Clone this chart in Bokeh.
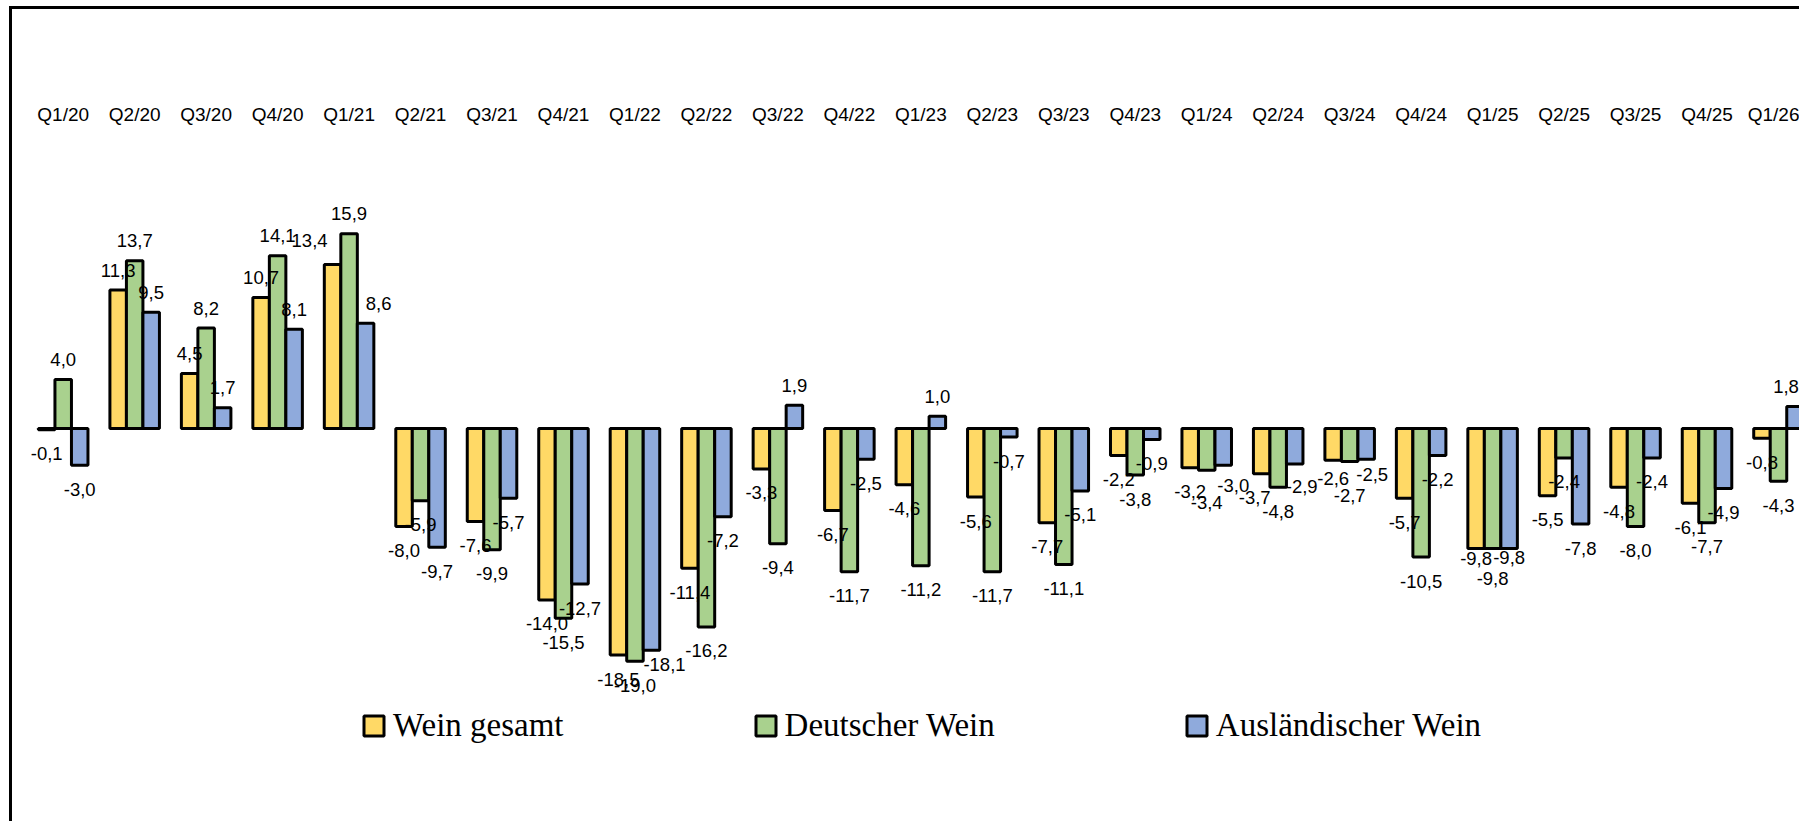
from bokeh.plotting import figure
from bokeh.models import ColumnDataSource, Range1d, FixedTicker, Legend, LegendItem
from bokeh.embed import file_html
from bokeh.resources import INLINE
from bokeh.core.properties import value

quarters = ["Q1/20", "Q2/20", "Q3/20", "Q4/20", "Q1/21", "Q2/21", "Q3/21", "Q4/21",
            "Q1/22", "Q2/22", "Q3/22", "Q4/22", "Q1/23", "Q2/23", "Q3/23", "Q4/23",
            "Q1/24", "Q2/24", "Q3/24", "Q4/24", "Q1/25", "Q2/25", "Q3/25", "Q4/25", "Q1/26"]
wein_gesamt = [-0.1, 11.3, 4.5, 10.7, 13.4, -8.0, -7.6, -14.0, -18.5, -11.4, -3.3, -6.7,
               -4.6, -5.6, -7.7, -2.2, -3.2, -3.7, -2.6, -5.7, -9.8, -5.5, -4.8, -6.1, -0.8]
deutscher_wein = [4.0, 13.7, 8.2, 14.1, 15.9, -5.9, -9.9, -15.5, -19.0, -16.2, -9.4, -11.7,
                  -11.2, -11.7, -11.1, -3.8, -3.4, -4.8, -2.7, -10.5, -9.8, -2.4, -8.0, -7.7, -4.3]
auslaendischer_wein = [-3.0, 9.5, 1.7, 8.1, 8.6, -9.7, -5.7, -12.7, -18.1, -7.2, 1.9, -2.5,
                       1.0, -0.7, -5.1, -0.9, -3.0, -2.9, -2.5, -2.2, -9.8, -7.8, -2.4, -4.9, 1.8]
series_names = ["Wein gesamt", "Deutscher Wein", "Ausländischer Wein"]
series_values = [wein_gesamt, deutscher_wein, auslaendischer_wein]
colors = ["#FFD966", "#A9D18E", "#8FAADC"]

# manual label nudges in screen pixels: (quarter index, series index) -> (dx, dy)
label_nudges = {
    (4, 0): (-23, -4), (4, 2): (13, 0),
    (8, 2): (13, -10),
    (16, 1): (0, 8), (16, 2): (10, -4),
    (17, 0): (-7, 0), (17, 2): (7, -2),
    (18, 0): (0, -6), (18, 1): (0, 10), (18, 2): (6, -9),
    (20, 0): (0, -14), (20, 1): (0, 6), (20, 2): (0, -15),
    (24, 2): (-9, 0),
}

BAR_W = 0.231
W, H = 1790, 815

p = figure(width=W, height=H, output_backend="svg", toolbar_location=None,
           x_range=Range1d(-0.7094, 24.336), y_range=Range1d(-32.33, 24.33),
           x_axis_location="above", min_border_left=0, min_border_right=0,
           min_border_bottom=0, min_border_top=121)
p.styles = {"border-left": "3px solid black", "border-top": "3px solid black",
            "margin-left": "9px", "margin-top": "6px"}
p.outline_line_color = None
p.background_fill_color = "white"
p.border_fill_color = "white"
p.xgrid.visible = False
p.ygrid.visible = False
p.yaxis.visible = False

xa = p.xaxis[0]
xa.ticker = FixedTicker(ticks=list(range(len(quarters))))
xa.major_label_overrides = {i: q for i, q in enumerate(quarters)}
xa.axis_line_color = None
xa.major_tick_line_color = None
xa.minor_tick_line_color = None
xa.major_label_standoff = 0
xa.major_label_text_font = "Liberation Sans"
xa.major_label_text_font_size = "19px"
xa.major_label_text_color = "black"

renderers = []
lx, ly, lt, lxo, lyo = [], [], [], [], []
for s, vals in enumerate(series_values):
    off = (s - 1) * BAR_W
    xs = [i + off for i in range(len(quarters))]
    src = ColumnDataSource(dict(x=xs, top=vals))
    r = p.vbar(x="x", top="top", bottom=0, width=BAR_W, source=src,
               fill_color=colors[s], line_color="black", line_width=3)
    renderers.append(r)
    for i, v in enumerate(vals):
        dx, dy = label_nudges.get((i, s), (0, 0))
        lx.append(i + off)
        ly.append(v)
        lt.append(f"{v:.1f}".replace(".", ","))
        lxo.append(dx)
        lyo.append((-20 if v >= 0 else 24) + dy)

lab_src = ColumnDataSource(dict(x=lx, y=ly, t=lt, xo=lxo, yo=lyo))
p.text(x="x", y="y", text="t", x_offset="xo", y_offset="yo", source=lab_src,
       text_font=value("Liberation Sans"), text_font_size="18.5px",
       text_color="black", text_align="center", text_baseline="middle")

legend = Legend(items=[LegendItem(label=n, renderers=[r]) for n, r in zip(series_names, renderers)],
                orientation="horizontal", location=(349, 80))
legend.label_text_font = "Liberation Serif"
legend.label_text_font_size = "33px"
legend.label_text_color = "black"
legend.glyph_width = 25
legend.glyph_height = 25
legend.label_standoff = 7
legend.spacing = 189
legend.padding = 0
legend.margin = 0
legend.border_line_color = None
legend.background_fill_alpha = 0
p.add_layout(legend)

open("out.html", "w").write(file_html(p, INLINE))
